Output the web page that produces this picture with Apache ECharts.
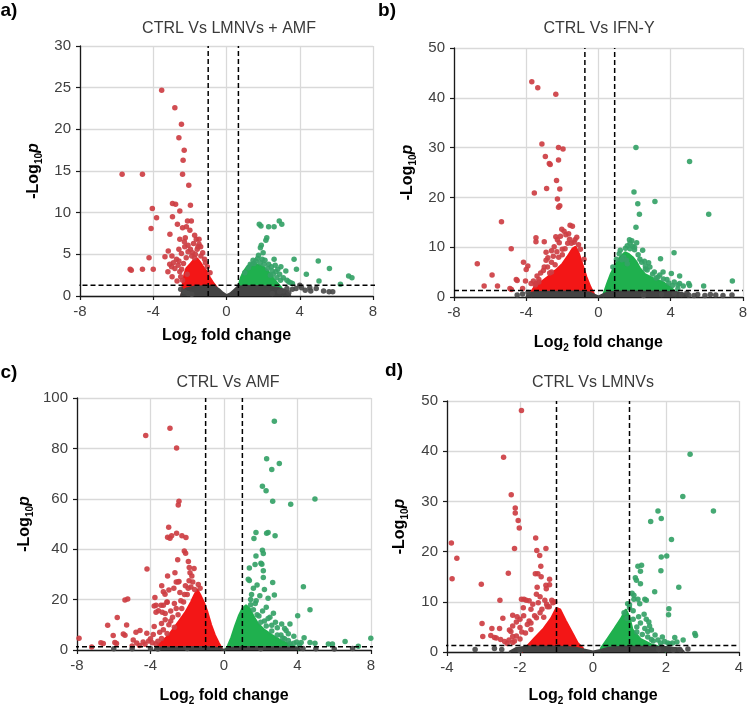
<!DOCTYPE html>
<html><head><meta charset="utf-8">
<script src="https://cdn.jsdelivr.net/npm/echarts@6/dist/echarts.min.js"></script>
<style>html,body{margin:0;padding:0;background:#fff}#c{width:750px;height:707px}</style>
</head><body><div id="c"></div>
<script>
// ---------- Panel titles / labels ----------
const panelTitles = ['CTRL Vs LMNVs + AMF', 'CTRL Vs IFN-Y', 'CTRL Vs AMF', 'CTRL Vs LMNVs'];
const panelLetters = ['a)', 'b)', 'c)', 'd)'];

// ---------- Thresholds [lowFC, highFC, -log10 p] and dashed-line x extent ----------
const thrA = [-1.0, 0.65, 1.3], hExtA = [-8.3, 8.8];
const thrB = [-0.75, 0.9, 1.3], hExtB = [-8.0, 8.0];
const thrC = [-1.0, 1.0, 1.3], hExtC = [-8.6, 8.6];
const thrD = [-1.0, 1.0, 1.3], hExtD = [-4.1, 4.0];

// ---------- Panel a ----------
const aRedCore = [[-2.45,0],[-2.4,1.3],[-2.3,2.6],[-2.2,3.3],[-2.0,3.8],[-1.8,4.3],[-1.6,4.5],[-1.45,4.1],[-1.3,3.6],[-1.1,3.0],[-0.9,2.2],[-0.7,1.5],[-0.55,1.1],[-0.5,0]];
const aGreenCore = [[0.6,0],[0.65,1.2],[0.8,2.3],[0.95,3.0],[1.15,3.6],[1.4,4.0],[1.7,3.8],[2.0,3.5],[2.3,2.9],[2.6,2.0],[2.8,1.5],[3.0,1.0],[3.1,0]];
const aGrayCore = [[-2.5,0],[-2.4,0.6],[-2.2,0.9],[-1.8,1.1],[-1.0,1.2],[-0.6,1.1],[-0.4,0.8],[-0.2,0.4],[0,0.1],[0.2,0.3],[0.4,0.7],[0.6,1.1],[1.0,1.2],[2.0,1.2],[2.8,1.0],[3.3,0.6],[3.5,0]];
const aRedPts = [[-3.54,24.7],[-2.82,22.6],[-2.46,20.6],[-2.6,19.0],[-2.31,17.5],[-2.37,16.3],[-2.4,14.6],[-2.06,13.3],[-5.7,14.6],[-4.59,14.6],
[-2.95,11.1],[-2.78,11.0],[-1.97,10.9],[-4.05,10.5],[-2.55,10.2],[-3.82,9.4],[-2.95,9.5],[-2.13,9.0],[-1.92,9.0],[-2.68,8.6],
[-2.4,8.2],[-2.19,8.3],[-4.12,8.1],[-2.0,7.9],[-3.09,7.4],[-1.65,6.8],[-1.5,6.8],[-2.55,6.8],[-2.1,6.1],[-1.41,5.9],
[-1.97,5.6],[-3.18,5.4],[-4.23,4.6],[-3.36,4.7],[-2.98,4.8],[-2.73,4.4],[-2.46,5.1],[-5.26,3.2],[-5.2,3.1],[-4.59,3.2],
[-4.0,3.2],[-3.0,3.5],[-2.82,3.3],[-2.97,2.3],[-2.55,2.9],[-2.64,3.7],[-2.4,1.9],[-1.74,7.3],[-1.56,5.9],[-2.28,5.9],
[-1.85,5.2],[-1.7,5.0],[-1.3,5.2],[-1.2,4.4],[-2.2,4.6],[-2.5,2.3],[-2.7,1.8],[-1.05,3.5],[-0.9,2.8],[-2.25,7.0],[-1.8,6.3],[-2.35,3.9],[-3.2,2.9],
[-2.3,6.5],[-2.1,5.3],[-1.9,4.8],[-1.6,5.6],[-1.4,4.8],[-2.6,4.2],[-2.45,3.2],[-2.15,2.6],[-1.15,4.0],[-1.5,6.2],[-2.9,4.0],[-3.1,3.8],[-2.6,5.6],[-1.75,4.6]];
const aGreenPts = [[1.79,8.6],[1.88,8.4],[2.3,8.3],[2.6,8.3],[2.88,9.0],[3.02,8.6],[2.15,6.7],[2.2,7.0],[1.9,6.1],[1.85,5.8],
[1.75,4.9],[1.7,4.5],[1.95,4.4],[2.1,4.3],[2.6,4.4],[2.66,3.7],[2.97,3.5],[2.45,3.5],[3.69,4.4],[3.82,3.2],
[5.01,4.2],[4.36,2.6],[5.62,3.3],[5.05,1.8],[6.67,2.4],[6.85,2.2],[6.22,1.4],[3.24,3.0],[3.4,1.7],[3.5,1.6],
[2.5,3.0],[2.7,2.9],[2.9,2.6],[2.8,3.2],[2.3,3.8],[1.6,4.2],[1.5,3.9],[1.3,3.8],[3.1,2.2],[3.3,1.9],[2.0,5.2],[2.4,2.5],
[1.2,3.4],[1.45,4.3],[1.85,4.0],[2.25,3.3],[2.55,2.6],[2.75,2.2],[1.0,2.8],[2.05,3.8],[2.95,1.9],[3.6,1.5]];
const aGrayPts = [[3.6,0.8],[3.8,0.9],[4.0,1.3],[4.1,1.0],[4.3,0.7],[4.55,1.0],[4.6,0.6],[5.3,0.6],[5.6,0.5],[5.8,0.5],[3.3,0.9],[3.1,0.6],[2.9,0.5],[-2.3,0.5],[-2.1,0.3],[-2.5,0.8],[-1.9,0.2],[2.5,0.3],[3.4,0.4],[4.9,0.9]];

// ---------- Panel b ----------
const bRedCore = [[-3.75,0],[-3.7,1.2],[-3.55,2.0],[-3.18,3.0],[-2.82,4.0],[-2.36,5.4],[-1.99,6.7],[-1.72,8.1],[-1.44,9.7],[-1.26,10.1],[-1.08,8.7],[-0.9,6.7],[-0.66,4.0],[-0.44,2.0],[-0.26,0.7],[-0.2,0]];
const bGreenCore = [[0.25,0],[0.3,0.8],[0.48,2.7],[0.69,4.7],[0.93,6.4],[1.21,8.1],[1.48,9.0],[1.7,8.6],[1.9,8.0],[2.12,7.0],[2.3,5.8],[2.58,4.6],[3.03,3.8],[3.58,3.0],[3.95,2.1],[4.22,1.2],[4.3,0]];
const bGrayCore = [[-4.0,0],[-3.9,0.7],[-3.5,1.0],[-2.0,1.1],[-1.0,1.1],[-0.5,0.9],[-0.25,0.5],[0,0.1],[0.25,0.5],[0.5,0.9],[1.0,1.1],[3.0,1.1],[4.3,1.0],[4.8,0.6],[5.0,0]];
const bRedPts = [[-3.69,43.2],[-3.36,42.0],[-2.36,40.7],[-3.13,30.7],[-2.21,30.0],[-1.96,29.7],[-2.94,28.2],[-2.72,26.8],[-2.67,26.6],[-2.21,27.5],
[-2.32,23.4],[-2.87,21.8],[-2.14,21.7],[-3.55,20.9],[-2.27,19.7],[-2.14,18.3],[-2.21,18.0],[-5.37,15.1],[-6.71,6.7],[-5.89,4.4],
[-6.33,2.2],[-5.59,2.2],[-4.83,9.7],[-4.55,3.5],[-4.5,3.3],[-4.9,1.7],[-4.82,1.5],[-4.15,7.0],[-3.91,6.2],[-4.0,5.5],
[-4.2,1.7],[-4.04,3.2],[-3.46,11.9],[-3.46,11.1],[-3.0,11.1],[-2.8,7.9],[-2.9,7.4],[-2.6,7.0],[-3.2,4.8],[-3.3,3.0],
[-3.46,2.7],[-2.36,12.1],[-2.27,11.5],[-2.17,10.9],[-2.03,13.6],[-1.9,13.2],[-1.57,14.4],[-1.44,14.2],[-1.8,12.5],[-1.35,11.0],
[-2.45,10.1],[-2.3,9.1],[-2.82,6.0],[-3.73,2.7],[-3.4,4.2],[-3.05,5.3],[-2.5,8.2],[-1.6,11.6],[-1.2,12.0],[-1.7,10.8],[-1.1,10.5],[-2.0,9.6],[-2.6,9.3],
[-3.3,3.5],[-3.0,6.0],[-2.7,4.8],[-2.4,6.5],[-2.2,8.0],[-2.0,8.5],[-1.85,9.7],[-1.5,10.8],[-1.3,11.5],[-2.6,5.0],[-3.5,2.4],[-3.6,3.2],[-2.9,9.0],[-1.65,12.7],[-2.1,12.2],[-1.0,9.6],[-0.8,7.6]];
const bGreenPts = [[2.08,30.0],[5.05,27.2],[1.97,21.1],[3.13,19.2],[2.18,18.7],[2.27,16.6],[6.11,16.6],[2.08,14.0],[1.72,11.5],[1.85,11.3],
[2.12,10.9],[1.21,9.4],[2.45,9.4],[3.44,7.7],[4.19,8.9],[2.78,6.9],[3.58,5.0],[4.04,4.7],[4.5,4.2],[5.05,2.3],
[5.0,2.7],[5.83,2.2],[7.42,3.2],[4.4,2.4],[4.5,2.7],[1.4,8.0],[1.55,7.4],[1.6,6.7],[2.3,7.6],[2.55,7.2],
[2.85,6.0],[3.1,5.0],[1.6,10.3],[1.5,9.8],[1.9,10.2],[2.0,9.5],[3.2,3.8],[3.8,3.5],[4.2,3.0],[2.6,5.6],[1.3,7.5],[3.4,4.4],[4.7,2.2],
[1.0,7.6],[1.15,8.7],[1.75,9.7],[2.2,8.5],[2.4,7.0],[2.7,5.4],[3.0,4.6],[3.3,4.0],[3.6,3.6],[3.9,2.8],[4.1,2.3],[1.75,10.8],[2.0,10.0],[2.6,6.2],[4.4,1.6],[0.8,6.0]];
const bGrayPts = [[4.6,0.5],[5.0,0.4],[5.3,0.3],[5.5,0.5],[5.9,0.3],[6.2,0.5],[6.5,0.4],[6.9,0.3],[7.4,0.4],[4.9,0.8],[-4.2,0.6],[-4.5,0.4],[-3.9,0.9],[3.5,0.5],[4.2,0.7],[2.5,0.3]];

// ---------- Panel c ----------
const cRedCore = [[-3.7,0],[-3.6,2],[-3.3,4],[-3.0,6],[-2.7,9],[-2.4,12],[-2.1,15],[-1.8,19],[-1.6,22],[-1.45,24],[-1.3,22],[-1.1,19],[-0.9,15],[-0.7,10],[-0.5,6],[-0.3,3],[-0.15,1],[-0.1,0]];
const cGreenCore = [[0.05,0],[0.2,1.5],[0.4,5],[0.6,9.5],[0.8,13.5],[1.0,16.5],[1.2,17.8],[1.4,16.5],[1.6,13.5],[1.85,10.5],[2.2,8.0],[2.6,6.0],[3.0,4.2],[3.5,2.5],[3.9,1.2],[4.1,0]];
const cGrayCore = [[-3.8,0],[-3.7,1.0],[-1.0,1.2],[-0.4,0.9],[0,0.1],[0.4,0.9],[1.0,1.2],[4.0,1.0],[4.2,0]];
const cRedPts = [[-2.94,88.0],[-4.26,85.1],[-2.58,80.2],[-2.45,59.0],[-2.49,57.5],[-3.01,48.7],[-3.07,44.7],[-2.94,44.3],[-2.85,45.3],[-2.58,46.3],
[-2.29,45.3],[-2.07,44.6],[-2.16,39.3],[-2.09,38.4],[-2.52,35.8],[-1.94,35.1],[-4.19,32.1],[-1.89,32.7],[-1.63,32.3],[-3.07,29.4],
[-2.67,30.7],[-1.85,30.7],[-1.75,29.4],[-3.39,25.5],[-3.76,20.8],[-5.39,19.8],[-5.24,20.2],[-3.3,23.1],[-3.0,23.8],[-2.73,24.5],
[-2.45,27.2],[-2.6,27.0],[-3.8,17.5],[-3.57,15.6],[-3.3,17.8],[-3.1,18.9],[-5.81,12.9],[-6.33,9.8],[-5.3,9.9],[-7.89,4.7],
[-6.7,2.9],[-6.57,2.6],[-6.03,5.8],[-5.94,3.0],[-5.85,2.6],[-5.39,5.9],[-4.79,7.0],[-4.57,7.7],[-4.94,4.0],[-4.75,2.8],
[-4.2,6.6],[-4.1,3.6],[-3.9,2.9],[-4.3,2.3],[-3.8,9.3],[-3.7,2.4],[-3.4,4.6],[-3.5,7.0],[-2.9,11.5],[-2.5,14.0],
[-2.2,19.0],[-2.0,22.0],[-1.8,25.0],[-2.3,16.5],[-2.7,9.0],[-3.2,12.0],[-2.4,22.8],[-1.6,24.0],[-1.4,26.0],[-1.3,24.5],[-4.6,1.8],[-5.0,1.6],[-7.2,1.2],
[-3.7,17.8],[-3.7,15.0],[-3.43,17.8],[-3.36,15.0],[-3.21,22.1],[-2.5,27.0],[-3.1,19.0],[-5.48,6.3],
[-3.6,3.5],[-3.3,8.0],[-3.0,10.0],[-2.8,13.0],[-2.6,16.5],[-2.35,19.5],[-2.15,22.0],[-1.95,24.5],[-3.1,6.5],[-2.7,18.5],[-2.9,15.5],[-3.4,10.5],[-3.2,14.5],[-1.7,27.0],[-1.9,27.5],[-2.1,25.5],[-4.0,4.5],[-4.4,3.2],[-3.85,6.2]];
const cGreenPts = [[2.74,90.8],[2.32,75.9],[3.01,74.0],[2.6,71.6],[2.09,65.0],[2.29,63.2],[2.65,59.0],[3.63,57.8],[4.95,59.9],[1.74,46.6],
[2.32,46.3],[2.4,46.6],[2.78,45.3],[1.63,44.2],[2.09,39.6],[2.14,38.3],[1.74,37.3],[2.01,34.4],[2.06,34.0],[1.69,33.9],
[1.38,32.5],[2.14,31.4],[1.32,28.1],[1.38,27.6],[2.14,28.8],[2.65,26.8],[4.32,25.1],[2.74,21.8],[4.68,16.0],[4.01,13.6],
[2.69,14.6],[3.14,10.3],[3.59,10.3],[3.38,7.7],[3.5,6.4],[4.36,4.9],[4.2,3.0],[4.68,3.0],[4.95,2.7],[5.68,2.4],
[5.9,2.4],[6.59,3.4],[7.31,1.5],[7.99,4.7],[1.6,24.5],[1.8,25.8],[1.5,22.0],[1.95,21.5],[2.2,24.0],[1.75,19.5],
[2.3,17.0],[2.5,13.0],[2.2,11.5],[2.9,8.8],[3.1,6.0],[3.8,5.5],[3.3,4.5],[2.6,9.8],[1.9,13.5],[1.45,20.0],[2.4,20.5],[3.95,3.2],[3.6,2.5],
[1.6,16.0],[1.8,14.0],[2.0,11.0],[2.3,9.5],[2.6,7.5],[2.9,6.0],[3.2,4.8],[3.5,3.8],[3.8,2.7],[2.1,15.5],[2.4,12.5],[1.7,18.5],[2.8,11.0],[3.3,8.5],[4.1,2.0],[1.45,18.0]];
const cGrayPts = [[-4.0,0.6],[-3.6,0.4],[4.3,0.6],[5.0,0.5],[6.0,0.4],[7.0,0.6],[-6.0,0.5],[-5.0,0.5],[2.0,0.5],[-2.0,0.6]];

// ---------- Panel d ----------
const dRedCore = [[-1.95,0],[-1.85,0.8],[-1.6,2.8],[-1.35,4.7],[-1.15,6.7],[-1.0,8.8],[-0.9,8.5],[-0.75,6.3],[-0.55,3.6],[-0.42,1.8],[-0.28,0.8],[-0.25,0]];
const dGreenCore = [[0.18,0],[0.22,0.8],[0.41,2.8],[0.59,4.7],[0.77,6.7],[0.9,8.5],[1.0,7.0],[1.08,4.5],[1.3,2.6],[1.6,1.5],[1.9,0.9],[2.0,0]];
const dGrayCore = [[-2.3,0],[-2.1,0.8],[-1.8,1.1],[-1.0,1.1],[-0.5,0.9],[-0.25,0.5],[0,0.1],[0.2,0.4],[0.45,0.9],[1.0,1.1],[2.0,1.0],[2.4,0.7],[2.5,0]];
const dRedPts = [[-1.96,48.1],[-2.45,38.8],[-2.24,31.3],[-2.13,28.7],[-2.13,27.7],[-2.05,26.2],[-2.02,24.7],[-3.88,21.7],[-3.73,18.7],[-3.86,14.6],
[-3.06,13.5],[-2.32,15.7],[-2.15,20.6],[-1.57,22.7],[-1.54,20.2],[-1.29,20.6],[-1.46,19.2],[-1.43,17.1],[-1.58,15.6],[-1.51,15.6],
[-1.42,15.0],[-1.29,13.3],[-1.19,13.4],[-1.28,12.6],[-1.53,12.9],[-1.19,14.5],[-2.55,10.3],[-1.96,10.5],[-1.89,10.5],[-1.83,10.3],
[-1.91,8.8],[-1.5,9.8],[-1.32,10.3],[-1.27,9.5],[-1.13,10.3],[-1.05,10.0],[-2.47,6.7],[-3.04,5.7],[-3.02,3.1],[-2.77,4.7],
[-2.56,4.7],[-2.29,4.4],[-2.25,4.1],[-2.8,3.3],[-2.65,2.8],[-2.53,2.5],[-2.42,2.1],[-2.3,2.4],[-2.1,6.0],[-2.0,6.5],
[-2.2,7.3],[-1.7,8.5],[-1.6,7.2],[-1.45,7.8],[-1.35,6.9],[-1.8,5.5],[-1.95,4.0],[-2.1,3.2],[-1.7,4.5],[-1.2,9.0],[-2.35,1.7],[-1.55,11.5],[-1.75,6.2],
[-2.7,2.9],[-2.2,1.9],[-2.2,3.1],[-2.0,4.9],[-2.08,7.0],[-2.2,5.2],
[-2.0,2.6],[-1.85,3.8],[-1.7,5.8],[-1.55,6.8],[-1.4,8.5],[-1.25,9.0],[-1.1,9.8],[-2.15,2.2],[-1.9,7.2],[-1.65,9.5],[-1.45,11.0],[-1.75,10.2]];
const dGreenPts = [[2.66,39.4],[2.46,31.0],[3.3,28.1],[1.78,28.1],[1.58,26.0],[1.87,26.6],[2.15,22.4],[2.02,19.1],[1.87,18.9],[1.86,16.2],
[1.23,17.1],[1.33,17.3],[1.3,16.1],[1.16,14.8],[1.19,14.3],[1.3,13.6],[2.35,12.9],[1.69,12.0],[1.07,11.7],[1.12,11.3],
[1.0,9.4],[1.12,10.5],[1.23,10.5],[1.28,9.6],[1.42,10.5],[1.46,10.3],[2.08,8.6],[2.07,7.4],[0.85,7.8],[0.93,6.7],
[1.4,7.5],[1.46,6.5],[1.53,6.0],[2.79,3.7],[2.81,3.3],[2.47,2.4],[2.24,2.9],[1.78,2.4],[1.96,2.1],[2.05,1.8],
[2.18,1.8],[2.3,2.0],[1.42,4.7],[1.5,4.1],[1.6,4.4],[1.2,5.0],[1.3,5.8],[1.7,3.4],[1.1,8.2],[1.6,2.5],
[1.1,6.5],[1.2,4.0],[1.35,3.5],[1.5,3.0],[1.65,2.2],[1.85,1.8],[1.0,8.8],[0.95,9.6],[1.25,7.0],[1.55,5.2],[1.9,3.0],[2.1,1.6]];
const dGrayPts = [[-3.23,0.5],[-2.5,0.5],[-2.0,0.3],[2.2,0.4],[2.38,0.5],[2.6,0.6],[1.8,0.5],[-2.7,0.7]];

// ---------- Axis ranges: [min, max, interval] ----------
const xRanges = [[-8,8,4],[-8,8,4],[-8,8,4],[-4,4,2]];
const yRanges = [[0,30,5],[0,50,10],[0,100,20],[0,50,10]];

// ---------- layout (not data) ----------
const FONT = "'Liberation Sans', Arial, sans-serif";
const layout = [
  {grid:{left:80,top:46,width:293,height:250}, title:[229,29], letter:[9,11], yGap:36, xGap:30},
  {grid:{left:454,top:48,width:292,height:249}, title:[599,29], letter:[387,11], yGap:36, xGap:36},
  {grid:{left:77,top:398,width:294,height:253}, title:[228,383], letter:[9,373], yGap:42, xGap:36},
  {grid:{left:447,top:401,width:292,height:253}, title:[593,383], letter:[394,371], yGap:37, xGap:34}
];
const COL = {redCore:'#f31616', greenCore:'#1fb04e', grayCore:'#434343', red:'#cd3e43', green:'#35a267', gray:'#4a4a4a'};

const panelData = [
  {rc:aRedCore, gc:aGreenCore, yc:aGrayCore, r:aRedPts, g:aGreenPts, k:aGrayPts, thr:thrA, ext:hExtA},
  {rc:bRedCore, gc:bGreenCore, yc:bGrayCore, r:bRedPts, g:bGreenPts, k:bGrayPts, thr:thrB, ext:hExtB},
  {rc:cRedCore, gc:cGreenCore, yc:cGrayCore, r:cRedPts, g:cGreenPts, k:cGrayPts, thr:thrC, ext:hExtC},
  {rc:dRedCore, gc:dGreenCore, yc:dGrayCore, r:dRedPts, g:dGreenPts, k:dGrayPts, thr:thrD, ext:hExtD}
];

const richY = {
  m:{fontSize:16,fontWeight:'bold',fontFamily:FONT,color:'#000',lineHeight:20},
  s:{fontSize:10,fontWeight:'bold',fontFamily:FONT,color:'#000',lineHeight:10,verticalAlign:'bottom'},
  i:{fontSize:16,fontWeight:'bold',fontStyle:'italic',fontFamily:FONT,color:'#000',lineHeight:20}
};

const grids=[], xAxes=[], yAxes=[], series=[], graphics=[];
layout.forEach((L,i)=>{
  grids.push(Object.assign({containLabel:false}, L.grid));
  const xr = xRanges[i], yr = yRanges[i];
  xAxes.push({type:'value', gridIndex:i, min:xr[0], max:xr[1], interval:xr[2],
    name:'{m|Log}{s|2}{m| fold change}', nameLocation:'middle', nameGap:L.xGap,
    nameTextStyle:{rich:richY},
    axisLine:{show:true, onZero:false, lineStyle:{color:'#1a1a1a', width:1.3}},
    axisTick:{show:true, length:4, lineStyle:{color:'#1a1a1a', width:1.2}},
    axisLabel:{fontSize:15, fontFamily:FONT, color:'#404040', margin:8},
    splitLine:{show:true, lineStyle:{color:'#d9d9d9', width:1.3}}
  });
  yAxes.push({type:'value', gridIndex:i, min:yr[0], max:yr[1], interval:yr[2],
    name:'{m|-Log}{s|10}{i|p}', nameLocation:'middle', nameGap:L.yGap, nameRotate:90,
    nameTextStyle:{rich:richY},
    axisLine:{show:true, onZero:false, lineStyle:{color:'#1a1a1a', width:1.3}},
    axisTick:{show:true, length:4, lineStyle:{color:'#1a1a1a', width:1.2}},
    axisLabel:{fontSize:15, fontFamily:FONT, color:'#404040', margin:9},
    splitLine:{show:true, lineStyle:{color:'#d9d9d9', width:1.3}}
  });
  const P = panelData[i];
  const area = (data,color,z)=>({type:'line', xAxisIndex:i, yAxisIndex:i, data, symbol:'none', silent:true,
    lineStyle:{width:2,color}, areaStyle:{color, opacity:1}, z, animation:false});
  const pts = (data,color,z)=>({type:'scatter', xAxisIndex:i, yAxisIndex:i, data, symbolSize:5.5, silent:true,
    itemStyle:{color, opacity:0.92}, z, animation:false});
  const dash = (data)=>({type:'line', xAxisIndex:i, yAxisIndex:i, data, symbol:'none', silent:true, clip:false,
    lineStyle:{color:'#000', width:1.5, type:[5,3]}, z:10, animation:false});
  series.push(area(P.rc, COL.redCore, 2));
  series.push(area(P.gc, COL.greenCore, 2));
  series.push(pts(P.r, COL.red, 3));
  series.push(pts(P.g, COL.green, 3));
  series.push(area(P.yc, COL.grayCore, 4));
  series.push(pts(P.k, COL.gray, 4));
  series.push(dash([[P.thr[0], yr[0]],[P.thr[0], yr[1]]]));
  series.push(dash([[P.thr[1], yr[0]],[P.thr[1], yr[1]]]));
  series.push(dash([[P.ext[0], P.thr[2]],[P.ext[1], P.thr[2]]]));
  graphics.push({type:'text', x:L.title[0], y:L.title[1], style:{text:panelTitles[i], fontSize:16, fontFamily:FONT, fill:'#3a3a3a', align:'center', verticalAlign:'middle'}});
  graphics.push({type:'text', x:L.letter[0], y:L.letter[1], style:{text:panelLetters[i], fontSize:19, fontWeight:'bold', fontFamily:FONT, fill:'#000', align:'center', verticalAlign:'middle'}});
});

const chart = echarts.init(document.getElementById('c'), null, {renderer:'canvas'});
chart.setOption({animation:false, backgroundColor:'#fff', grid:grids, xAxis:xAxes, yAxis:yAxes, series, graphic:graphics});
</script></body></html>
